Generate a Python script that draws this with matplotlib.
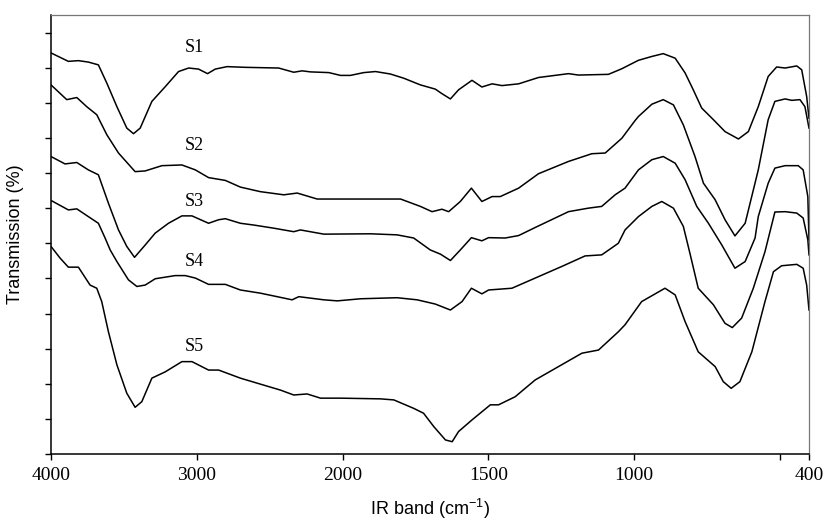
import numpy as np
import matplotlib
matplotlib.use("Agg")
import matplotlib.pyplot as plt

plt.rcParams["mathtext.fontset"] = "custom"
plt.rcParams["mathtext.rm"] = "Liberation Sans"
plt.rcParams["mathtext.default"] = "regular"

# wavenumber (cm-1) / transmission (arbitrary %, offset curves)
s1_wn = [4000, 3881, 3812, 3744, 3675, 3617, 3548, 3480, 3434, 3388, 3308, 3216, 3125, 3056,
         2988, 2926, 2873, 2792, 2667, 2438, 2335, 2277, 2220, 2094, 2014, 1973, 1927, 1887,
         1836, 1790, 1733, 1682, 1659, 1630, 1602, 1556, 1522, 1487, 1453, 1396, 1328, 1225,
         1191, 1088, 1042, 997, 985, 939, 900, 859, 825, 797, 768, 728, 688, 642, 608, 574,
         540, 511, 482, 442, 425, 408, 400]
s1_t = [114.2, 111.8, 112.0, 111.6, 110.8, 105.6, 98.9, 92.8, 91.2, 92.8, 100.4, 104.6, 108.9,
        109.9, 109.6, 108.3, 109.6, 110.3, 110.1, 109.9, 108.7, 109.1, 108.8, 108.6, 107.8,
        107.8, 108.6, 108.9, 108.2, 107.0, 105.1, 103.9, 102.6, 101.1, 103.7, 106.4, 104.5,
        105.4, 104.9, 105.4, 107.2, 108.3, 107.9, 108.1, 109.7, 111.6, 112.1, 113.2, 114.0,
        112.7, 108.5, 103.7, 98.5, 95.2, 91.8, 89.7, 91.8, 98.9, 107.5, 110.2, 109.9, 110.5,
        109.4, 101.8, 95.6]

s2_wn = [4000, 3892, 3823, 3755, 3686, 3617, 3537, 3423, 3354, 3239, 3102, 3010, 2919, 2804,
         2701, 2564, 2403, 2311, 2174, 2014, 1801, 1733, 1693, 1659, 1636, 1596, 1558, 1522,
         1487, 1459, 1396, 1328, 1225, 1145, 1099, 1042, 997, 985, 939, 900, 865, 831, 791,
         762, 722, 688, 654, 619, 574, 540, 517, 482, 459, 431, 414, 400]
s2_t = [105.1, 100.9, 101.5, 98.9, 96.6, 90.9, 85.7, 80.4, 80.6, 82.1, 82.3, 80.9, 78.7, 77.9,
        76.0, 74.7, 73.8, 74.3, 72.6, 72.6, 72.6, 70.5, 69.0, 69.7, 69.0, 71.9, 75.7, 71.9,
        73.3, 73.3, 75.7, 79.8, 83.3, 85.5, 85.7, 89.9, 94.9, 96.1, 99.6, 100.9, 99.4, 93.7,
        84.7, 77.1, 72.4, 66.7, 62.1, 65.7, 80.9, 95.2, 100.4, 101.1, 100.7, 100.9, 98.9, 92.8]

s3_wn = [4000, 3904, 3823, 3744, 3675, 3606, 3537, 3480, 3427, 3354, 3285, 3194, 3102, 3033,
         2919, 2850, 2804, 2701, 2610, 2472, 2335, 2289, 2128, 1904, 1813, 1756, 1699, 1664,
         1630, 1596, 1558, 1522, 1499, 1442, 1396, 1339, 1225, 1157, 1111, 1065, 1031, 985,
         939, 900, 859, 825, 785, 745, 699, 654, 619, 585, 574, 540, 517, 482, 437, 420, 404, 400]
s3_t = [84.7, 82.6, 83.0, 80.9, 79.5, 71.4, 63.8, 59.1, 56.0, 59.5, 62.9, 65.7, 67.8, 67.8,
        65.7, 66.7, 67.0, 65.7, 65.2, 64.3, 63.3, 63.8, 62.6, 62.7, 62.4, 61.5, 58.1, 56.9,
        55.1, 58.1, 61.6, 60.7, 61.6, 61.5, 62.2, 64.5, 69.0, 70.0, 70.5, 73.8, 75.7, 80.9,
        83.8, 84.7, 82.8, 78.1, 70.5, 65.7, 59.5, 52.9, 54.8, 61.5, 67.6, 77.1, 81.4, 82.1,
        82.1, 80.9, 73.3, 61.0]

s4_wn = [4000, 3881, 3823, 3744, 3675, 3629, 3594, 3548, 3469, 3411, 3354, 3285, 3148, 3079,
         3010, 2919, 2804, 2701, 2564, 2472, 2346, 2300, 2128, 2036, 1938, 1813, 1744, 1682,
         1630, 1590, 1558, 1522, 1499, 1419, 1339, 1248, 1168, 1111, 1054, 1031, 985, 939,
         905, 865, 831, 808, 780, 728, 688, 663, 631, 591, 551, 517, 482, 442, 420, 404, 400]
s4_t = [72.2, 69.5, 69.8, 67.6, 65.7, 61.5, 58.1, 54.8, 49.6, 47.7, 48.1, 49.9, 50.8, 50.8,
        50.1, 48.3, 48.3, 46.7, 45.8, 45.0, 43.9, 44.8, 43.9, 43.6, 44.2, 44.5, 43.9, 42.7,
        41.0, 43.4, 47.2, 45.6, 46.7, 47.2, 50.1, 53.4, 56.4, 56.7, 60.0, 63.8, 67.6, 70.5,
        71.9, 70.0, 64.8, 57.0, 47.2, 42.5, 37.2, 36.0, 38.7, 47.2, 57.6, 68.9, 69.0, 68.6,
        67.2, 61.0, 56.7]

s5_wn = [4000, 3938, 3881, 3812, 3732, 3686, 3652, 3606, 3548, 3480, 3423, 3377, 3308, 3216,
         3102, 3033, 2919, 2850, 2701, 2564, 2426, 2335, 2243, 2151, 2014, 1870, 1824, 1756,
         1722, 1687, 1647, 1624, 1602, 1556, 1493, 1465, 1408, 1339, 1259, 1179, 1122, 1054,
         1031, 974, 894, 859, 825, 780, 722, 694, 667, 637, 596, 551, 522, 494, 442, 420, 408, 400]
s5_t = [59.1, 55.8, 53.2, 53.2, 48.1, 47.2, 43.4, 34.8, 25.4, 17.3, 13.3, 14.9, 21.6, 23.4,
        26.3, 26.3, 23.9, 23.9, 21.6, 19.9, 18.2, 16.8, 17.1, 15.9, 15.9, 15.7, 15.4, 13.0,
        11.6, 7.8, 4.0, 3.5, 6.4, 9.7, 14.0, 14.0, 16.3, 21.1, 24.9, 28.7, 29.6, 34.8, 36.8,
        43.4, 47.2, 45.3, 37.7, 29.1, 24.9, 20.6, 18.7, 20.6, 29.1, 43.4, 51.9, 53.6, 54.0,
        52.9, 48.1, 41.0]

names = ["S1", "S2", "S3", "S4", "S5"]
label_y = [115.7, 87.7, 71.8, 54.8, 30.6]
label_x = 3017

xticks = [4000, 3000, 2000, 1500, 1000, 500, 400]
xticklabels = ["4000", "3000", "2000", "1500", "1000", "", "400"]

# spectrometer-style axis: scale doubles below 2000 cm-1
brk_wn = [400, 1000, 2000, 4000]
brk_pos = [0, 1.2, 3.2, 5.2]


def fwd(x):
    return np.interp(x, brk_wn, brk_pos)


def inv(p):
    return np.interp(p, brk_pos, brk_wn)


fig = plt.figure(figsize=(8.26, 5.25), dpi=100)
ax = fig.add_axes([51 / 826, 1 - 454 / 525, 758 / 826, 439 / 525])
ax.set_xscale("function", functions=(fwd, inv))

series = [(s1_wn, s1_t), (s2_wn, s2_t), (s3_wn, s3_t), (s4_wn, s4_t), (s5_wn, s5_t)]
for (wn, t), name, ly in zip(series, names, label_y):
    ax.plot(wn, t, color="black", linewidth=1.1, solid_joinstyle="round")
    ax.text(label_x, ly, name, family="Liberation Serif", fontsize=13,
            ha="center", va="center")

ax.set_xlim(4000, 400)
ax.set_ylim(0, 125)
ax.set_xticks(xticks)
ax.set_xticklabels(xticklabels, family="Liberation Serif", fontsize=14)
ax.set_yticks(np.arange(0, 121, 10))
ax.set_yticklabels([])
ax.xaxis.set_minor_locator(plt.NullLocator())
ax.tick_params(axis="both", direction="out", length=4.5, width=1.0, pad=5)

for side in ["left", "bottom"]:
    ax.spines[side].set_linewidth(1.1)
for side in ["top", "right"]:
    ax.spines[side].set_color("#777777")
    ax.spines[side].set_linewidth(0.9)

ax.set_xlabel("IR band (cm$^{-1}$)", family="Liberation Sans", fontsize=13, labelpad=9)
ax.set_ylabel("Transmission (%)", family="Liberation Sans", fontsize=13, labelpad=10)

fig.savefig("out.png", dpi=100)
